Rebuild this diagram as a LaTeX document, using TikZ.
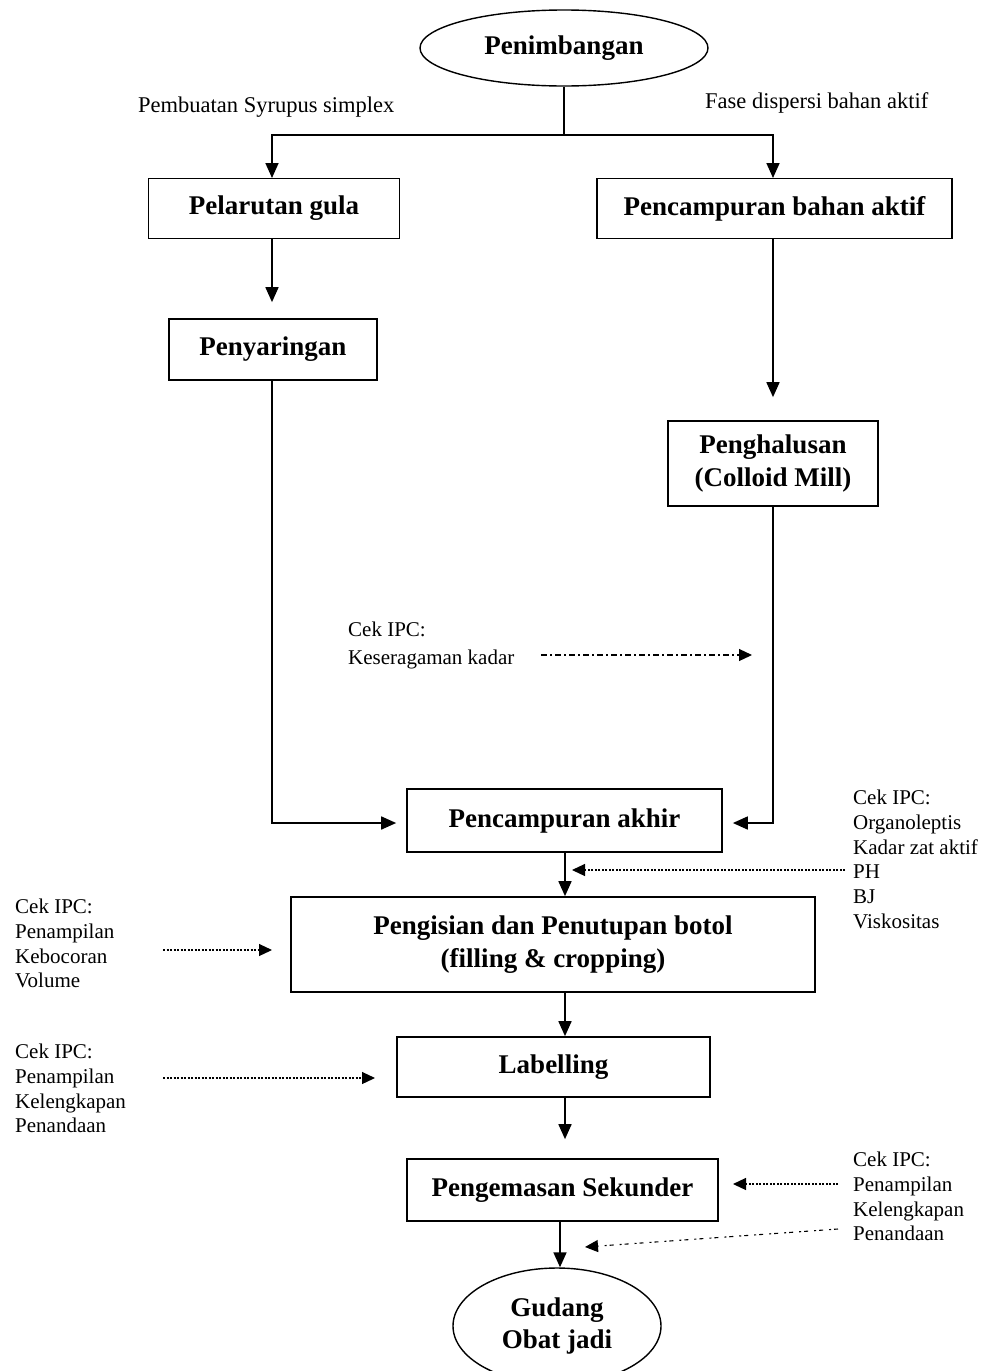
\documentclass[tikz,border=0pt]{standalone}
\usepackage{fontspec}
\setmainfont{Liberation Serif}
\usetikzlibrary{arrows.meta,shapes.geometric}

\tikzset{
  proc/.style={draw, line width=1.7pt, rectangle, inner sep=0pt, align=center,
    font=\fontsize{27}{33}\selectfont\bfseries},
  term/.style={draw, line width=1.4pt, ellipse, inner sep=0pt, align=center,
    font=\fontsize{27}{32}\selectfont\bfseries},
  note/.style={inner sep=0pt, anchor=north west, align=left,
    font=\fontsize{21}{24.7}\selectfont},
  flow/.style={line width=1.7pt, -{Triangle[length=15pt,width=13pt]}},
  link/.style={line width=1.7pt},
  ipc/.style={line width=1.2pt, dash pattern=on 2pt off 1.5pt,
    -{Triangle[length=13pt,width=12pt]}},
  ipcdd/.style={line width=1.2pt, dash pattern=on 6pt off 3pt on 2pt off 3pt,
    -{Triangle[length=13pt,width=12pt]}},
  ipcloose/.style={line width=1.1pt, dash pattern=on 4pt off 3pt on 2pt off 6pt,
    -{Triangle[length=13pt,width=12pt]}}
}

\begin{document}
\begin{tikzpicture}[x=1pt, y=-1pt]
  \useasboundingbox[fill=white] (0,0) rectangle (981,1371);

  % process steps
  \node[term, minimum width=288pt, minimum height=76pt] (pen) at (564,48) {Penimbangan};
  \node[proc, minimum width=251pt, minimum height=60pt] (pg) at (274,208.5) {Pelarutan gula};
  \node[proc, minimum width=355pt, minimum height=60pt] (pba) at (774.5,208.5) {Pencampuran bahan aktif};
  \node[proc, minimum width=208pt, minimum height=61pt] (py) at (273,349.5) {Penyaringan};
  \node[proc, minimum width=210pt, minimum height=85pt] (ph) at (773,463.5) {Penghalusan\\(Colloid Mill)};
  \node[proc, minimum width=315pt, minimum height=63pt] (akhir) at (564.5,820.5) {Pencampuran akhir};
  \node[proc, minimum width=524pt, minimum height=95pt] (isi) at (553,944.5) {Pengisian dan Penutupan botol\\(filling \& cropping)};
  \node[proc, minimum width=313pt, minimum height=60pt] (lab) at (553.5,1067) {Labelling};
  \node[proc, minimum width=311pt, minimum height=62pt] (kem) at (562.5,1190) {Pengemasan Sekunder};
  \node[term, minimum width=208pt, minimum height=116pt] (gud) at (557,1326) {Gudang\\Obat jadi};

  % branch labels
  \node[inner sep=0pt, anchor=west, font=\fontsize{22.5}{24}\selectfont] (lsyr) at (138,107) {Pembuatan Syrupus simplex};
  \node[inner sep=0pt, anchor=west, font=\fontsize{22.5}{24}\selectfont] (ldis) at (705,103) {Fase dispersi bahan aktif};

  % in-process control notes
  \node[note, font=\fontsize{21}{28}\selectfont] (nkes) at (348,622) {Cek IPC:\\Keseragaman kadar};
  \node[note] (nakhir) at (853,790) {Cek IPC:\\Organoleptis\\Kadar zat aktif\\PH\\BJ\\Viskositas};
  \node[note] (nisi) at (15,899) {Cek IPC:\\Penampilan\\Kebocoran\\Volume};
  \node[note] (nlab) at (15,1044) {Cek IPC:\\Penampilan\\Kelengkapan\\Penandaan};
  \node[note] (nkem) at (853,1152) {Cek IPC:\\Penampilan\\Kelengkapan\\Penandaan};

  % main flow
  \coordinate (split) at (564,135);
  \draw[link] (pen.south) -- (split);
  \draw[flow] (split) -| (272,178) coordinate (pgin);
  \draw[flow] (split) -| (773,178) coordinate (pbain);
  \draw[flow, shorten >=16pt] (pg.south -| 272,0) -- (py.north -| 272,0);
  \draw[flow, shorten >=23pt] (pba.south -| 773,0) -- (ph.north -| 773,0);
  \draw[flow, shorten >=10pt] (py.south -| 272,0) |- (akhir.west |- 0,823);
  \draw[flow, shorten >=10pt] (ph.south -| 773,0) |- (akhir.east |- 0,823);
  \draw[flow] (akhir.south -| 565,0) -- (isi.north -| 565,0);
  \draw[flow] (isi.south -| 565,0) -- (lab.north -| 565,0);
  \draw[flow, shorten >=19pt] (lab.south -| 565,0) -- (kem.north -| 565,0);
  \draw[flow] (kem.south -| 560,0) -- (gud.north -| 560,0);

  % control arrows
  \coordinate (kesA) at (541,655);  \coordinate (kesB) at (752,655);
  \draw[ipcdd] (kesA) -- (kesB);
  \coordinate (akA) at (845,870);   \coordinate (akB) at (572,870);
  \draw[ipc] (akA) -- (akB);
  \coordinate (isA) at (163,950);   \coordinate (isB) at (272,950);
  \draw[ipc] (isA) -- (isB);
  \coordinate (lbA) at (163,1078);  \coordinate (lbB) at (375,1078);
  \draw[ipc] (lbA) -- (lbB);
  \coordinate (kmA) at (838,1184);  \coordinate (kmB) at (733,1184);
  \draw[ipc] (kmA) -- (kmB);
  \coordinate (gdA) at (838,1229);  \coordinate (gdB) at (585,1247);
  \draw[ipcloose] (gdA) -- (gdB);
\end{tikzpicture}
\end{document}
